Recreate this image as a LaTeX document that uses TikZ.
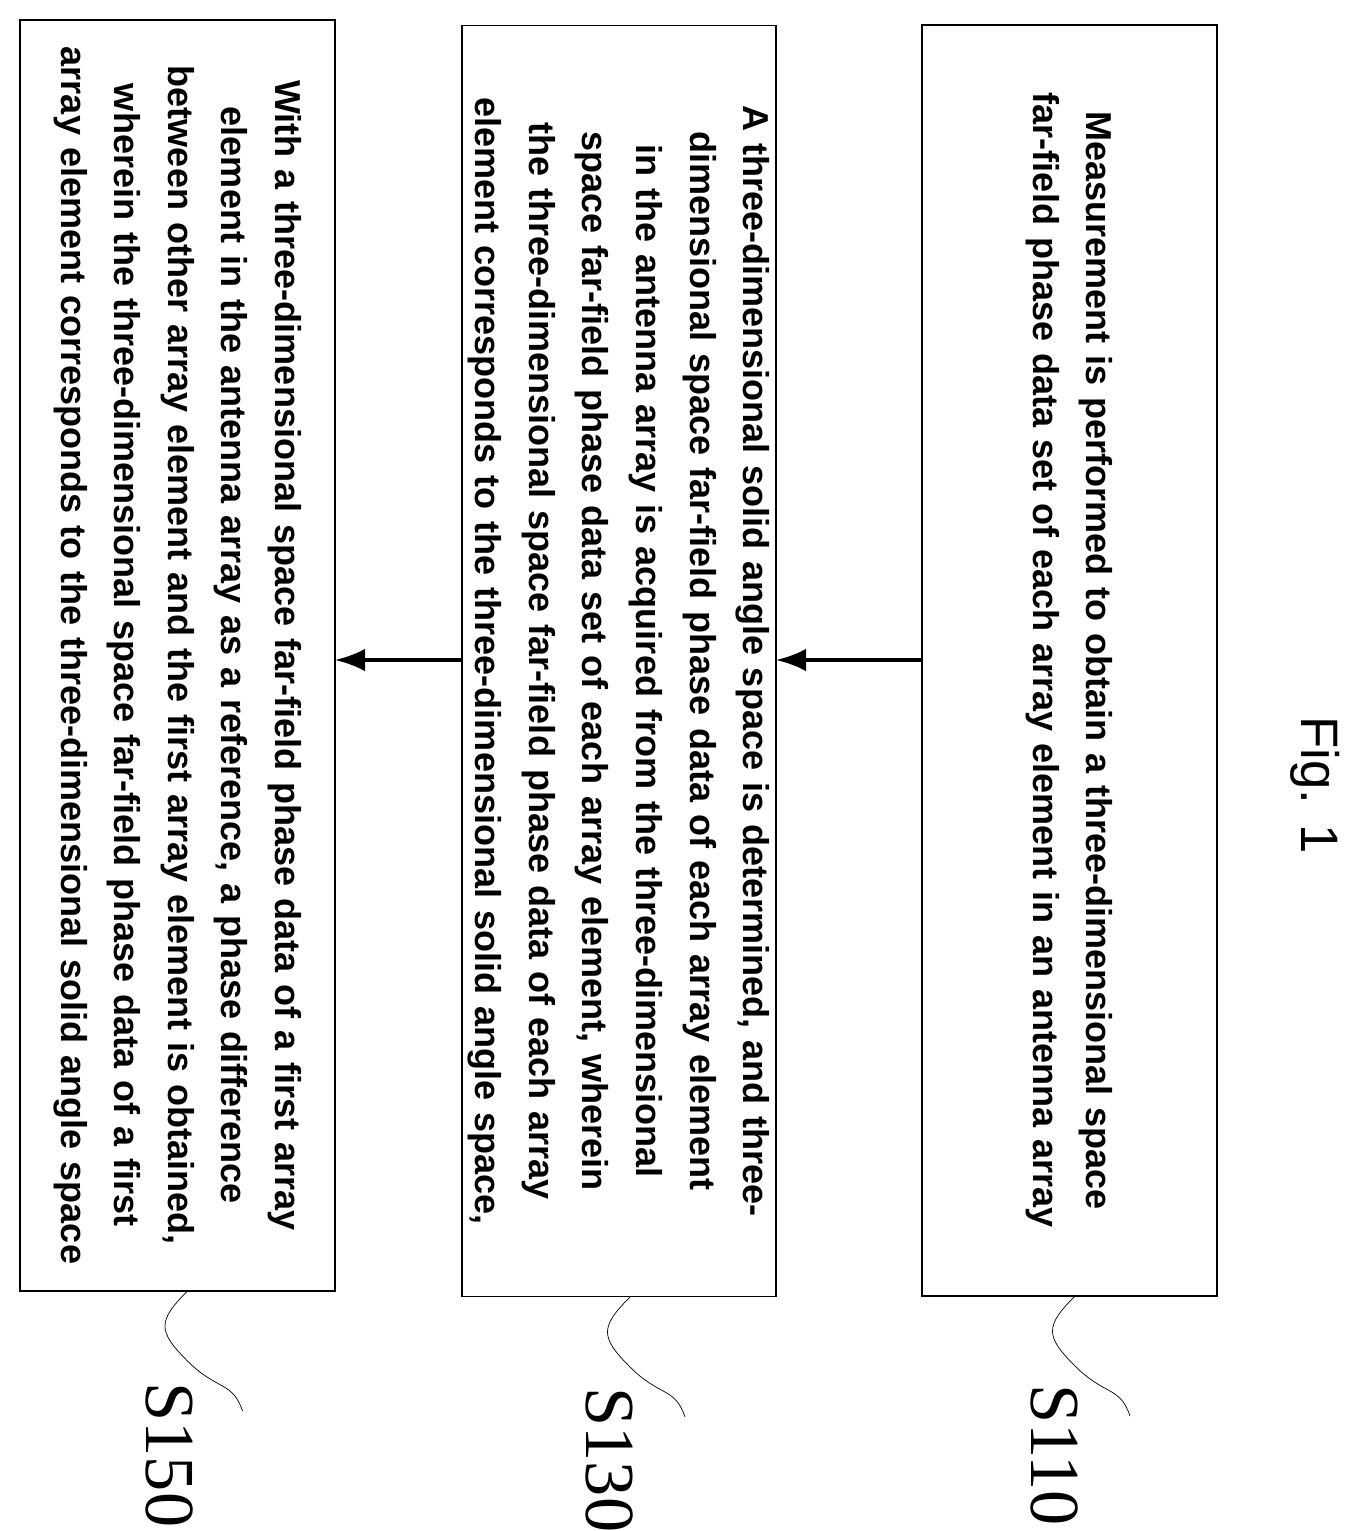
\documentclass[tikz,border=0pt]{standalone}
\usepackage{fontspec}
\setmainfont{Liberation Serif}
\setsansfont{Liberation Sans}
\usetikzlibrary{positioning,arrows.meta}
\tikzset{
  stepbox/.style={draw, line width=1.1pt, minimum width=25.42cm, minimum height=6.0cm, rotate=-90},
  steptext/.style={rotate=-90, text width=24.6cm, align=center,
    font=\sffamily\bfseries\fontsize{20.5}{30.5}\selectfont},
  steplabel/.style={rotate=-90, font=\fontsize{40}{40}\selectfont},
  steparrow/.style={-{Latex[length=0.6cm,width=0.45cm]}, line width=2pt}
}
\begin{document}
\hyphenpenalty=10000
\exhyphenpenalty=0
\begin{tikzpicture}
  \useasboundingbox (0,0) rectangle (27.04,-30.62);
  \node[stepbox, minimum height=5.9cm] (s110) at (21.39,-13.21) {};
  \node[stepbox, minimum height=6.28cm] (s130) at (12.38,-13.22) {};
  \node[stepbox, minimum height=6.3cm] (s150) at (3.55,-13.11) {};

  \node[steptext] (t110) at (21.39,-13.21) {Measurement is performed to obtain a three-dimensional space far-field phase data set of each array element in an antenna array};
  \node[steptext] (t130) at (12.38,-13.22) {A three-dimensional solid angle space is determined, and three-dimensional space far-field phase data of each array element in the antenna array is acquired from the three-dimensional space far-field phase data set of each array element, wherein the three-dimensional space far-field phase data of each array element corresponds to the three-dimensional solid angle space,};
  \node[steptext] (t150) at (3.55,-13.11) {With a three-dimensional space far-field phase data of a first array element in the antenna array as a reference, a phase difference between other array element and the first array element is obtained, wherein the three-dimensional space far-field phase data of a first array element corresponds to the three-dimensional solid angle space};

  \draw[steparrow] (18.44,-13.2) -- (15.52,-13.2);
  \draw[steparrow] (9.24,-13.2) -- (6.7,-13.2);

  % squiggles to labels
  \coordinate (c110) at (21.5,-25.92);
  \coordinate (c130) at (12.6,-25.94);
  \coordinate (c150) at (3.75,-25.82);
  \foreach \c in {c110,c130,c150}
    \draw[thin] (\c) .. controls +(-0.6,-0.6) and +(-0.6,0.6) .. ++(0,-1.4)
      .. controls +(0.6,-0.6) and +(-0.2,0.6) .. ++(1.1,-1.0);

  \node[steplabel] (l110) at (21.1,-29.1) {S110};
  \node[steplabel] (l130) at (12.2,-29.2) {S130};
  \node[steplabel] (l150) at (3.4,-29.1) {S150};

  \node[rotate=-90, font=\sffamily\fontsize{30}{30}\selectfont] (fig) at (26.3,-15.7) {Fig. 1};
\end{tikzpicture}
\end{document}
